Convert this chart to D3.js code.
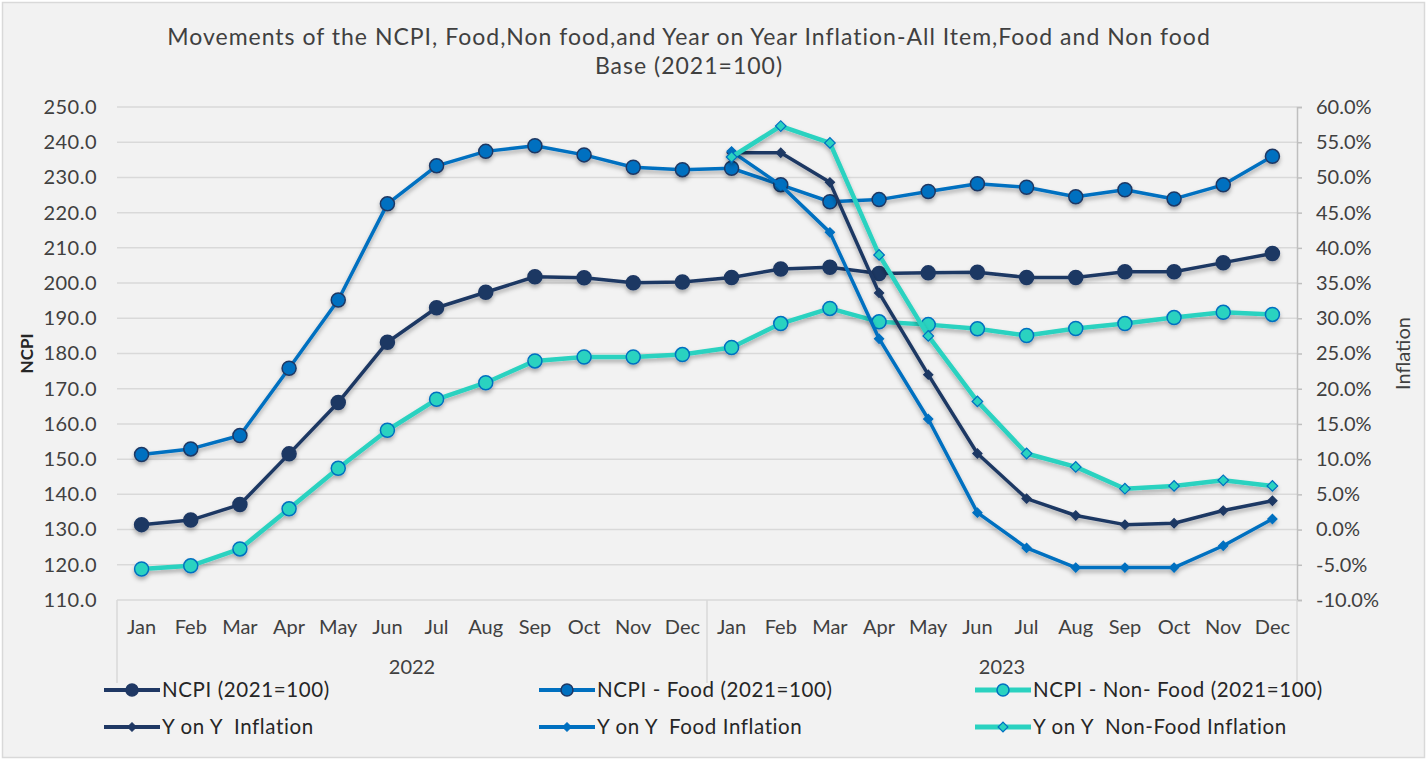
<!DOCTYPE html>
<html>
<head>
<meta charset="utf-8">
<script src="https://cdn.jsdelivr.net/npm/d3@7"></script>
<style>
  body { margin: 0; background: #fff; }
  svg { display: block; font-family: Lato, "Noto Sans", sans-serif; }
  text { white-space: pre; }
</style>
</head>
<body>
<svg id="chart" width="1427" height="760"></svg>
<script>
// Data
const years = ['2022', '2023'];
const months = ['Jan', 'Feb', 'Mar', 'Apr', 'May', 'Jun', 'Jul', 'Aug', 'Sep', 'Oct', 'Nov', 'Dec'];

const ncpi = [131.4, 132.7, 137.1, 151.5, 166.1, 183.2, 193.0, 197.4, 201.8, 201.5, 200.1, 200.3,
              201.6, 204.0, 204.5, 202.7, 202.9, 203.1, 201.6, 201.6, 203.2, 203.2, 205.8, 208.4];
const ncpiFood = [151.3, 152.9, 156.7, 175.8, 195.2, 222.5, 233.3, 237.4, 239.0, 236.4, 232.9, 232.2,
                  232.6, 227.9, 223.1, 223.7, 226.0, 228.2, 227.2, 224.5, 226.5, 223.9, 227.9, 236.0];
const ncpiNonFood = [118.8, 119.7, 124.5, 135.9, 147.4, 158.2, 167.0, 171.7, 177.9, 179.0, 179.0, 179.7,
                     181.7, 188.5, 192.8, 189.0, 188.2, 187.0, 185.1, 187.1, 188.5, 190.2, 191.7, 191.1];

// Year on year inflation, 2023 only
const yoy = [53.5, 53.5, 49.3, 33.6, 22.0, 10.8, 4.4, 2.0, 0.7, 0.9, 2.7, 4.1];
const yoyFood = [53.7, 48.9, 42.2, 27.1, 15.7, 2.4, -2.6, -5.4, -5.4, -5.4, -2.3, 1.5];
const yoyNonFood = [52.9, 57.3, 54.9, 39.0, 27.5, 18.2, 10.8, 8.9, 5.8, 6.2, 7.0, 6.2];

const NAVY = '#1f3864', BLUE = '#0070c0', TEAL = '#2ad2c0';

const keys = [];
years.forEach(y => months.forEach(m => keys.push(y + '-' + m)));

const svg = d3.select('#chart');
const W = 1427, H = 760;
const plotLeft = 117, plotRight = 1297, plotTop = 107, plotBottom = 600;

// background + frame
svg.append('rect').attr('x', 0).attr('y', 0).attr('width', W).attr('height', H).attr('fill', '#fff');
svg.append('rect').attr('x', 2.5).attr('y', 2.5).attr('width', W - 5).attr('height', H - 5)
  .attr('fill', '#f2f2f2').attr('stroke', '#d9d9d9').attr('stroke-width', 1.5);

const defs = svg.append('defs');
const f = defs.append('filter').attr('id', 'shadow').attr('x', '-10%').attr('y', '-10%')
  .attr('width', '120%').attr('height', '130%');
f.append('feDropShadow').attr('dx', 0).attr('dy', 3).attr('stdDeviation', 2.2)
  .attr('flood-color', '#000').attr('flood-opacity', 0.3);

// title
const title = svg.append('text').attr('text-anchor', 'middle').attr('fill', '#404040')
  .attr('font-size', 23).attr('letter-spacing', 1);
title.append('tspan').attr('x', 689).attr('y', 45)
  .text('Movements of the NCPI, Food,Non food,and Year on Year Inflation-All Item,Food and Non food');
title.append('tspan').attr('x', 689).attr('y', 74).text('Base (2021=100)');

// scales
const x = d3.scaleBand().domain(keys).range([plotLeft, plotRight]);
const cx = k => x(k) + x.bandwidth() / 2;
const yL = d3.scaleLinear().domain([110, 250]).range([plotBottom, plotTop]);
const yR = d3.scaleLinear().domain([-10, 60]).range([plotBottom, plotTop]);

// gridlines
svg.append('g').selectAll('line').data(d3.range(120, 251, 10)).join('line')
  .attr('x1', plotLeft).attr('x2', plotRight).attr('y1', d => yL(d)).attr('y2', d => yL(d))
  .attr('stroke', '#d9d9d9').attr('stroke-width', 1.5);

// left axis
const gl = svg.append('g').attr('transform', `translate(${plotLeft},0)`)
  .call(d3.axisLeft(yL).tickValues(d3.range(110, 251, 10)).tickFormat(d3.format('.1f')).tickSize(0).tickPadding(20));
gl.select('.domain').remove();
gl.selectAll('text').attr('font-size', 20).attr('letter-spacing', 0.5).attr('fill', '#404040').attr('font-family', 'Lato, sans-serif');

svg.append('text').attr('transform', `translate(33,${(plotTop + plotBottom) / 2}) rotate(-90)`)
  .attr('text-anchor', 'middle').attr('font-weight', 'bold').attr('font-size', 17).attr('fill', '#262626')
  .text('NCPI');

// right axis
const gr = svg.append('g').attr('transform', `translate(${plotRight},0)`)
  .call(d3.axisRight(yR).tickValues(d3.range(-10, 61, 5)).tickFormat(d => d.toFixed(1) + '%').tickSize(5).tickPadding(14).tickSizeOuter(5));
gr.selectAll('.domain, line').attr('stroke', '#bfbfbf').attr('stroke-width', 1.5);
gr.selectAll('text').attr('font-size', 20).attr('fill', '#404040').attr('font-family', 'Lato, sans-serif');

svg.append('text').attr('transform', `translate(1410,${(plotTop + plotBottom) / 2}) rotate(-90)`)
  .attr('text-anchor', 'middle').attr('font-size', 20).attr('fill', '#404040').text('Inflation');

// bottom category axis (two levels)
const gb = svg.append('g');
gb.append('line').attr('x1', plotLeft).attr('x2', plotRight).attr('y1', plotBottom).attr('y2', plotBottom)
  .attr('stroke', '#d9d9d9').attr('stroke-width', 1.5);
[0, 12, 24].forEach(i => {
  const xx = i < 24 ? x(keys[i]) : plotRight;
  gb.append('line').attr('x1', xx).attr('x2', xx).attr('y1', plotBottom).attr('y2', 683)
    .attr('stroke', '#d9d9d9').attr('stroke-width', 1.5);
});
gb.selectAll('text.m').data(keys).join('text').attr('class', 'm')
  .attr('x', d => cx(d)).attr('y', 634).attr('text-anchor', 'middle')
  .attr('font-size', 20).attr('fill', '#404040').text(d => d.split('-')[1]);
gb.selectAll('text.y').data(years).join('text').attr('class', 'y')
  .attr('x', (d, i) => (cx(keys[i * 12]) + cx(keys[i * 12 + 11])) / 2).attr('y', 674)
  .attr('text-anchor', 'middle').attr('font-size', 20).attr('fill', '#404040').text(d => d);

// series definitions (diamonds are squares turned 45 degrees)
const square = d3.symbol().type(d3.symbolSquare);
const series = [
  { name: 'NCPI (2021=100)', values: ncpi, keys: keys, y: yL, color: NAVY, width: 3.5, marker: 'circle', r: 7, fill: NAVY, stroke: NAVY },
  { name: 'NCPI - Food (2021=100)', values: ncpiFood, keys: keys, y: yL, color: BLUE, width: 3.5, marker: 'circle', r: 7, fill: BLUE, stroke: NAVY },
  { name: 'NCPI - Non- Food (2021=100)', values: ncpiNonFood, keys: keys, y: yL, color: TEAL, width: 4.5, marker: 'circle', r: 7, fill: TEAL, stroke: BLUE },
  { name: 'Y on Y  Inflation', values: yoy, keys: keys.slice(12), y: yR, color: NAVY, width: 3.5, marker: 'diamond', size: 42, fill: NAVY, stroke: NAVY },
  { name: 'Y on Y  Food Inflation', values: yoyFood, keys: keys.slice(12), y: yR, color: BLUE, width: 3.5, marker: 'diamond', size: 42, fill: BLUE, stroke: BLUE },
  { name: 'Y on Y  Non-Food Inflation', values: yoyNonFood, keys: keys.slice(12), y: yR, color: TEAL, width: 4.5, marker: 'diamond', size: 56, fill: TEAL, stroke: BLUE }
];

const line = d3.line();
series.forEach(s => {
  const pts = s.values.map((v, i) => [cx(s.keys[i]), s.y(v)]);
  const g = svg.append('g').attr('filter', 'url(#shadow)');
  g.append('path').attr('d', line(pts)).attr('fill', 'none')
    .attr('stroke', s.color).attr('stroke-width', s.width).attr('stroke-linejoin', 'round');
  if (s.marker === 'circle') {
    g.selectAll('circle').data(pts).join('circle')
      .attr('cx', d => d[0]).attr('cy', d => d[1]).attr('r', s.r)
      .attr('fill', s.fill).attr('stroke', s.stroke).attr('stroke-width', 1.5);
  } else {
    g.selectAll('path.mk').data(pts).join('path').attr('class', 'mk')
      .attr('transform', d => `translate(${d[0]},${d[1]}) rotate(45)`)
      .attr('d', square.size(s.size)())
      .attr('fill', s.fill).attr('stroke', s.stroke).attr('stroke-width', 1.2);
  }
});

// legend
const legX = [104, 539, 975], legY = [690, 727];
series.forEach((s, i) => {
  const lx = legX[i % 3], ly = legY[Math.floor(i / 3)];
  const g = svg.append('g').attr('transform', `translate(${lx},${ly})`);
  g.append('line').attr('x1', 0).attr('x2', 56).attr('stroke', s.color).attr('stroke-width', s.width + 0.5);
  if (s.marker === 'circle') {
    g.append('circle').attr('cx', 28).attr('r', 6).attr('fill', s.fill).attr('stroke', s.stroke).attr('stroke-width', 1.5);
  } else {
    g.append('path').attr('transform', 'translate(28,0) rotate(45)').attr('d', square.size(s.size * 0.85)())
      .attr('fill', s.fill).attr('stroke', s.stroke).attr('stroke-width', 1.2);
  }
  g.append('text').attr('x', 58).attr('y', 7).attr('font-size', 20.5).attr('letter-spacing', 0.6)
    .attr('fill', '#262626').text(s.name);
});
</script>
</body>
</html>
